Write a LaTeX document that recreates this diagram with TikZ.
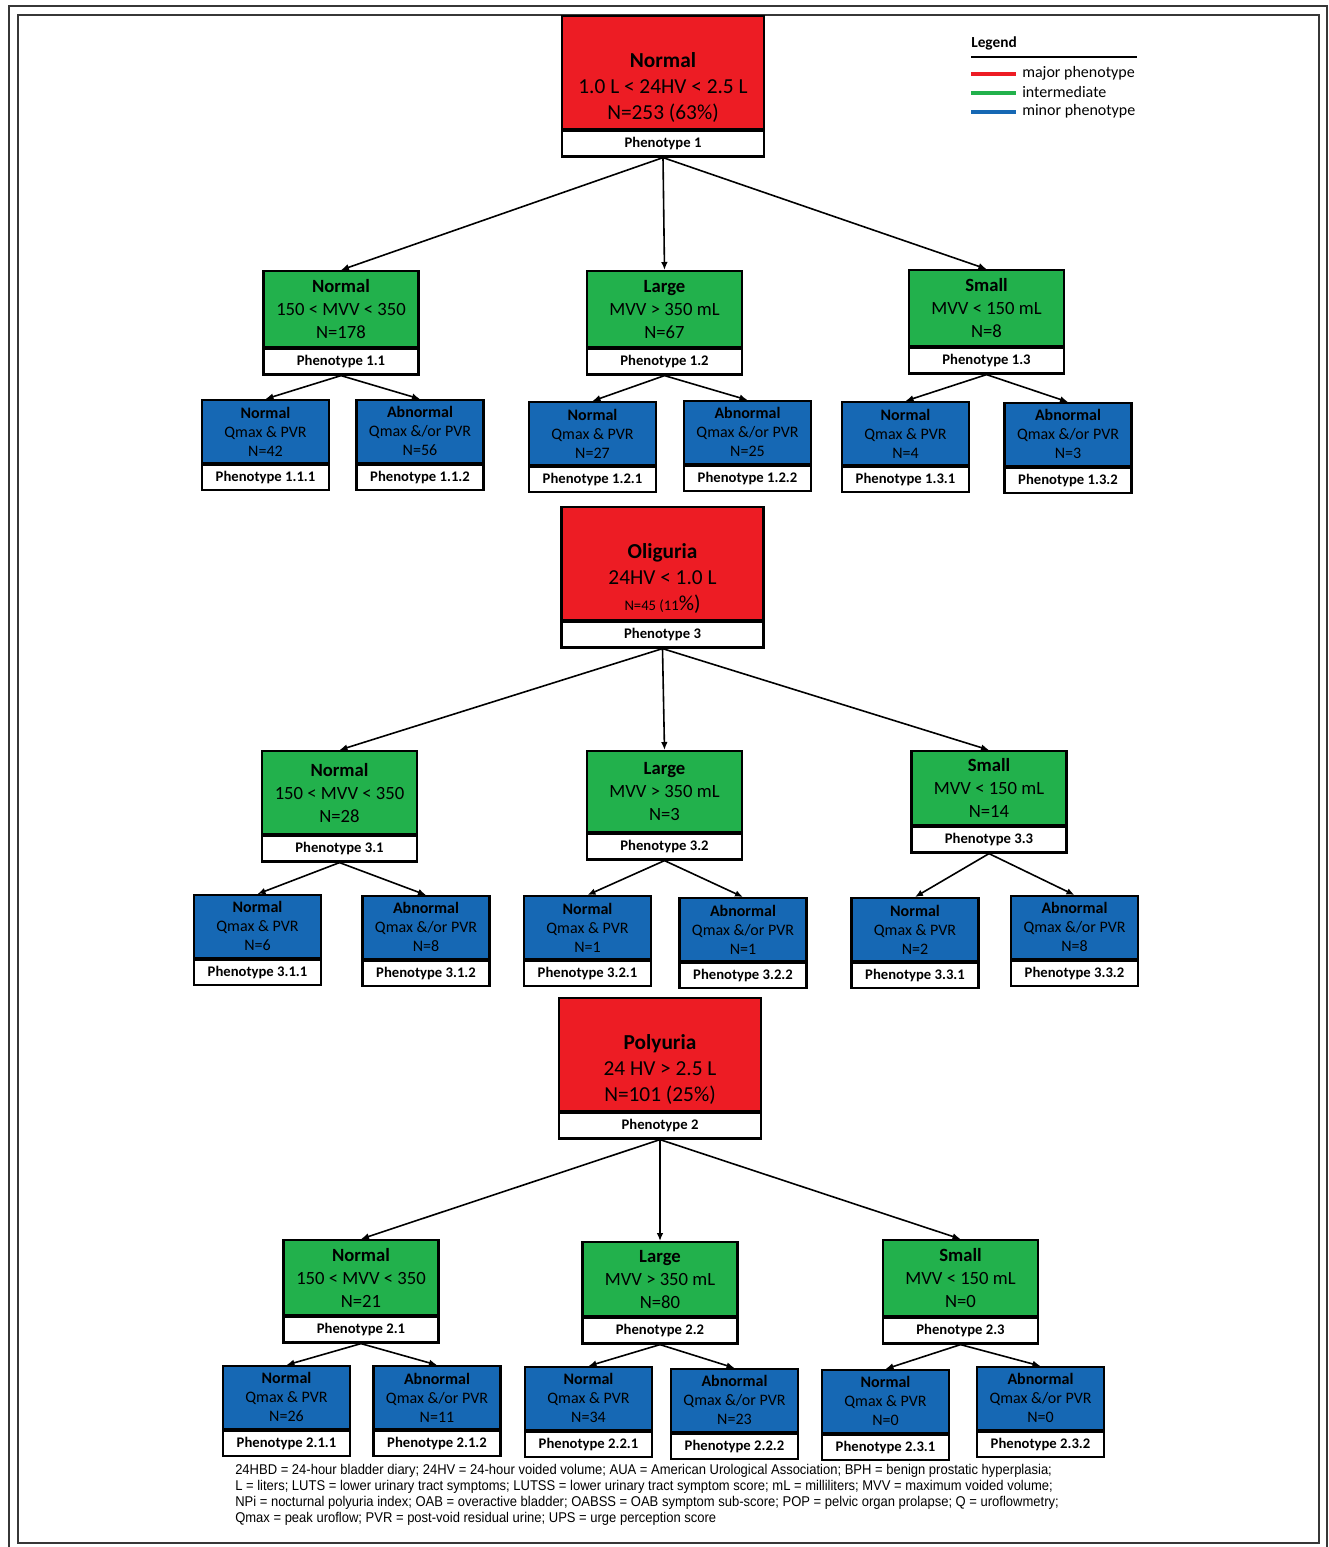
\documentclass[tikz,border=0pt]{standalone}
\usepackage{fontspec}
\setmainfont{Carlito}
\newfontfamily\notefont[FakeStretch=0.92]{Liberation Sans}
\usetikzlibrary{positioning,arrows.meta}
\definecolor{majred}{RGB}{237,28,36}
\definecolor{intgreen}{RGB}{34,177,76}
\definecolor{minblue}{RGB}{22,104,180}
\definecolor{framegray}{RGB}{55,55,55}
\newcommand{\redgap}{\rule{0pt}{33pt}}

\begin{document}
\begin{tikzpicture}[
  x=0.75pt, y=-0.75pt,
  box/.style={draw, line width=1.6pt, inner sep=0pt, align=center, anchor=north},
  major/.style={box, fill=majred, minimum width=151.5pt, minimum height=84.75pt,
    font=\fontsize{16}{19.5}\selectfont},
  inter/.style={box, fill=intgreen, minimum width=116.25pt, minimum height=57pt,
    font=\fontsize{14}{17.25}\selectfont},
  minor/.style={box, fill=minblue, minimum width=95.25pt, minimum height=47pt,
    font=\fontsize{12}{14.25}\selectfont},
  tag/.style={draw, line width=1.6pt, fill=white, inner sep=0pt, minimum width=#1,
    minimum height=19pt, font=\fontsize{11}{13}\selectfont\bfseries},
  legtext/.style={anchor=west, inner sep=0pt, font=\fontsize{12}{14}\selectfont},
  arrow/.style={-{Latex[length=6pt,width=5pt]}, line width=1.2pt}
]
  \fill[white] (0,0) rectangle (1329,1547);
  \useasboundingbox (0,0) rectangle (1329,1547);
  \draw[framegray, line width=1.6pt] (9,1560) -- (9,6) -- (1327,6) -- (1327,1560);
  \draw[framegray, line width=1.6pt] (18,15) rectangle (1319,1543);

  % phenotype 1
  \node[major] (p1) at (663,15) {\redgap\textbf{Normal}\\1.0 L < 24HV < 2.5 L\\N=253 (63\%)};
  \node[tag=151.5pt, below=0pt of p1] (t1) {Phenotype 1};

  \node[inter] (p11) at (341,270) {\textbf{Normal}\\150 < MVV < 350\\N=178};
  \node[tag=116.25pt, below=0pt of p11] (t11) {Phenotype 1.1};
  \node[inter] (p12) at (664.5,270) {\textbf{Large}\\MVV > 350 mL\\N=67};
  \node[tag=116.25pt, below=0pt of p12] (t12) {Phenotype 1.2};
  \node[inter] (p13) at (986.5,269) {\textbf{Small}\\MVV < 150 mL\\N=8};
  \node[tag=116.25pt, below=0pt of p13] (t13) {Phenotype 1.3};

  \node[minor] (p111) at (265.5,399) {\textbf{Normal}\\Qmax \& PVR\\N=42};
  \node[tag=95.25pt, below=0pt of p111] (t111) {Phenotype 1.1.1};
  \node[minor] (p112) at (420,399) {\textbf{Abnormal}\\Qmax \&/or PVR\\N=56};
  \node[tag=95.25pt, below=0pt of p112] (t112) {Phenotype 1.1.2};
  \node[minor] (p121) at (592.5,401) {\textbf{Normal}\\Qmax \& PVR\\N=27};
  \node[tag=95.25pt, below=0pt of p121] (t121) {Phenotype 1.2.1};
  \node[minor] (p122) at (747.5,400) {\textbf{Abnormal}\\Qmax \&/or PVR\\N=25};
  \node[tag=95.25pt, below=0pt of p122] (t122) {Phenotype 1.2.2};
  \node[minor] (p131) at (905.5,401) {\textbf{Normal}\\Qmax \& PVR\\N=4};
  \node[tag=95.25pt, below=0pt of p131] (t131) {Phenotype 1.3.1};
  \node[minor] (p132) at (1068,402) {\textbf{Abnormal}\\Qmax \&/or PVR\\N=3};
  \node[tag=95.25pt, below=0pt of p132] (t132) {Phenotype 1.3.2};

  \draw[arrow] (t1.south) -- (p11.north);
  \draw[arrow] (t1.south) -- (p12.north);
  \draw[arrow] (t1.south) -- (p13.north);
  \draw[arrow] (t11.south) -- (p111.north);
  \draw[arrow] (t11.south) -- (p112.north);
  \draw[arrow] (t12.south) -- (p121.north);
  \draw[arrow] (t12.south) -- (p122.north);
  \draw[arrow] (t13.south) -- (p131.north);
  \draw[arrow] (t13.south) -- (p132.north);

  % phenotype 3
  \node[major] (p3) at (662.5,506) {\redgap\textbf{Oliguria}\\24HV < 1.0 L\\{\fontsize{11}{13}\selectfont N=45 (11}\%)};
  \node[tag=151.5pt, below=0pt of p3] (t3) {Phenotype 3};

  \node[inter, minimum height=62.25pt] (p31) at (339.5,750) {\textbf{Normal}\\150 < MVV < 350\\N=28};
  \node[tag=116.25pt, below=0pt of p31] (t31) {Phenotype 3.1};
  \node[inter, minimum height=60.75pt] (p32) at (664.5,750) {\textbf{Large}\\MVV > 350 mL\\N=3};
  \node[tag=116.25pt, below=0pt of p32] (t32) {Phenotype 3.2};
  \node[inter, minimum height=55.5pt] (p33) at (989,750) {\textbf{Small}\\MVV < 150 mL\\N=14};
  \node[tag=116.25pt, below=0pt of p33] (t33) {Phenotype 3.3};

  \node[minor] (p311) at (257.5,894) {\textbf{Normal}\\Qmax \& PVR\\N=6};
  \node[tag=95.25pt, below=0pt of p311] (t311) {Phenotype 3.1.1};
  \node[minor] (p312) at (426,895) {\textbf{Abnormal}\\Qmax \&/or PVR\\N=8};
  \node[tag=95.25pt, below=0pt of p312] (t312) {Phenotype 3.1.2};
  \node[minor] (p321) at (587.5,895) {\textbf{Normal}\\Qmax \& PVR\\N=1};
  \node[tag=95.25pt, below=0pt of p321] (t321) {Phenotype 3.2.1};
  \node[minor] (p322) at (743,897) {\textbf{Abnormal}\\Qmax \&/or PVR\\N=1};
  \node[tag=95.25pt, below=0pt of p322] (t322) {Phenotype 3.2.2};
  \node[minor] (p331) at (915,897) {\textbf{Normal}\\Qmax \& PVR\\N=2};
  \node[tag=95.25pt, below=0pt of p331] (t331) {Phenotype 3.3.1};
  \node[minor] (p332) at (1074.5,895) {\textbf{Abnormal}\\Qmax \&/or PVR\\N=8};
  \node[tag=95.25pt, below=0pt of p332] (t332) {Phenotype 3.3.2};

  \draw[arrow] (t3.south) -- (p31.north);
  \draw[arrow] (t3.south) -- (p32.north);
  \draw[arrow] (t3.south) -- (p33.north);
  \draw[arrow] (t31.south) -- (p311.north);
  \draw[arrow] (t31.south) -- (p312.north);
  \draw[arrow] (t32.south) -- (p321.north);
  \draw[arrow] (t32.south) -- (p322.north);
  \draw[arrow] (t33.south) -- (p331.north);
  \draw[arrow] (t33.south) -- (p332.north);

  % phenotype 2
  \node[major] (p2) at (660,997) {\redgap\textbf{Polyuria}\\24 HV > 2.5 L\\N=101 (25\%)};
  \node[tag=151.5pt, below=0pt of p2] (t2) {Phenotype 2};

  \node[inter, minimum height=56.25pt] (p21) at (361,1239) {\textbf{Normal}\\150 < MVV < 350\\N=21};
  \node[tag=116.25pt, below=0pt of p21] (t21) {Phenotype 2.1};
  \node[inter, minimum height=55.5pt] (p22) at (660,1241) {\textbf{Large}\\MVV > 350 mL\\N=80};
  \node[tag=116.25pt, below=0pt of p22] (t22) {Phenotype 2.2};
  \node[inter] (p23) at (960.5,1239) {\textbf{Small}\\MVV < 150 mL\\N=0};
  \node[tag=116.25pt, below=0pt of p23] (t23) {Phenotype 2.3};

  \node[minor] (p211) at (286.5,1365) {\textbf{Normal}\\Qmax \& PVR\\N=26};
  \node[tag=95.25pt, below=0pt of p211] (t211) {Phenotype 2.1.1};
  \node[minor] (p212) at (437,1365) {\textbf{Abnormal}\\Qmax \&/or PVR\\N=11};
  \node[tag=95.25pt, below=0pt of p212] (t212) {Phenotype 2.1.2};
  \node[minor] (p221) at (588.5,1366) {\textbf{Normal}\\Qmax \& PVR\\N=34};
  \node[tag=95.25pt, below=0pt of p221] (t221) {Phenotype 2.2.1};
  \node[minor] (p222) at (734.5,1368) {\textbf{Abnormal}\\Qmax \&/or PVR\\N=23};
  \node[tag=95.25pt, below=0pt of p222] (t222) {Phenotype 2.2.2};
  \node[minor] (p231) at (885.5,1369) {\textbf{Normal}\\Qmax \& PVR\\N=0};
  \node[tag=95.25pt, below=0pt of p231] (t231) {Phenotype 2.3.1};
  \node[minor] (p232) at (1040.5,1366) {\textbf{Abnormal}\\Qmax \&/or PVR\\N=0};
  \node[tag=95.25pt, below=0pt of p232] (t232) {Phenotype 2.3.2};

  \draw[arrow] (t2.south) -- (p21.north);
  \draw[arrow] (t2.south) -- (p22.north);
  \draw[arrow] (t2.south) -- (p23.north);
  \draw[arrow] (t21.south) -- (p211.north);
  \draw[arrow] (t21.south) -- (p212.north);
  \draw[arrow] (t22.south) -- (p221.north);
  \draw[arrow] (t22.south) -- (p222.north);
  \draw[arrow] (t23.south) -- (p231.north);
  \draw[arrow] (t23.south) -- (p232.north);

  % legend
  \node[legtext, font=\fontsize{11.5}{13}\selectfont\bfseries] (leg) at (971,43) {Legend};
  \draw[line width=1.3pt] (971,57) -- (1137,57);
  \node[legtext] (lmaj) at (1022,73) {major phenotype};
  \node[legtext] (lint) at (1022,92) {intermediate};
  \node[legtext] (lmin) at (1022,111) {minor phenotype};
  \draw[majred, line width=2.4pt] (971,74) -- (1016,74);
  \draw[intgreen, line width=2.4pt] (971,93) -- (1016,93);
  \draw[minblue, line width=2.4pt] (971,112) -- (1016,112);

  % abbreviations
  \node[anchor=north west, inner sep=0pt, align=left,
    font=\notefont\fontsize{10.6}{12}\selectfont] (note) at (235,1464)
    {24HBD = 24-hour bladder diary; 24HV = 24-hour voided volume; AUA = American Urological Association; BPH = benign prostatic hyperplasia;\\
     L = liters; LUTS = lower urinary tract symptoms; LUTSS = lower urinary tract symptom score; mL = milliliters; MVV = maximum voided volume;\\
     NPi = nocturnal polyuria index; OAB = overactive bladder; OABSS = OAB symptom sub-score; POP = pelvic organ prolapse; Q = uroflowmetry;\\
     Qmax = peak uroflow; PVR = post-void residual urine; UPS = urge perception score};
\end{tikzpicture}
\end{document}
